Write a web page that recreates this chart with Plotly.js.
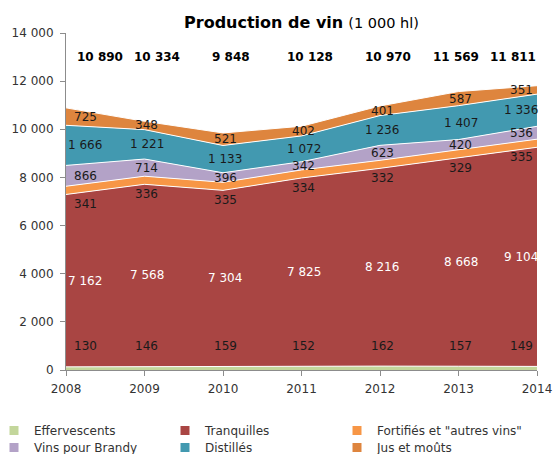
<!DOCTYPE html>
<html>
<head>
<meta charset="utf-8">
<script src="https://cdn.plot.ly/plotly-3.0.1.min.js"></script>
<style>html,body{margin:0;padding:0;background:#fff;}#chart{width:558px;height:454px;}</style>
</head>
<body>
<div id="chart"></div>
<script>
// ---- data ----
const years = [2008, 2009, 2010, 2011, 2012, 2013, 2014];
const effervescents = [130, 146, 159, 152, 162, 157, 149];
const tranquilles = [7162, 7568, 7304, 7825, 8216, 8668, 9104];
const fortifies = [341, 336, 335, 334, 332, 329, 335];
const brandy = [866, 714, 396, 342, 623, 420, 536];
const distilles = [1666, 1221, 1133, 1072, 1236, 1407, 1336];
const jus = [725, 348, 521, 402, 401, 587, 351];
const totals = [10890, 10334, 9848, 10128, 10970, 11569, 11811];
const seriesNames = ["Effervescents", "Tranquilles", "Fortifiés et \"autres vins\"", "Vins pour Brandy", "Distillés", "Jus et moûts"];

// ---- style ----
const colors = ["#C3D69B", "#A94543", "#F79646", "#B3A2C7", "#4299B0", "#DE853E"];
const FONT = "DejaVu Sans, sans-serif";
const series = [effervescents, tranquilles, fortifies, brandy, distilles, jus];
// legend grid: 3 columns x 2 rows, one legend box per entry
const legendCols = [-6, 165, 337];
const legendRows = [416, 433];

function fmt(v) { return String(v).replace(/\B(?=(\d{3})+(?!\d))/g, " "); }

const traces = [];
series.forEach((vals, i) => {
  traces.push({
    x: years, y: vals, type: "scatter", mode: "lines",
    stackgroup: "one", name: seriesNames[i], showlegend: false,
    line: {color: "#ffffff", width: 1}, fillcolor: colors[i],
    hoverinfo: "skip"
  });
});
series.forEach((vals, i) => {
  traces.push({
    x: [null], y: [null], type: "scatter", mode: "markers", name: seriesNames[i],
    marker: {symbol: "square", size: 9, color: colors[i]}, showlegend: true,
    legend: i === 0 ? "legend" : "legend" + (i + 1)
  });
});

function edgeShift(j) { return j === 0 ? 19 : (j === years.length - 1 ? -16 : 2); }

const annotations = [];
const cum = years.map(() => 0);
const bottoms = [], tops = [];
series.forEach((vals) => {
  bottoms.push(cum.slice());
  vals.forEach((v, j) => { cum[j] += v; });
  tops.push(cum.slice());
});
series.forEach((vals, i) => {
  vals.forEach((v, j) => {
    let y, yanchor = "middle", yshift = 0, color = "#1a1a1a";
    if (i === 0) { y = 1000; }
    else if (i === 2) { y = bottoms[i][j]; yanchor = "top"; yshift = -1; }
    else { y = (bottoms[i][j] + tops[i][j]) / 2; }
    if (i === 1) color = "#ffffff";
    annotations.push({
      x: years[j], y: y, xref: "x", yref: "y", text: fmt(v), showarrow: false,
      xshift: edgeShift(j), yshift: yshift, yanchor: yanchor,
      font: {family: FONT, size: 12, color: color}
    });
  });
});
const totalShift = [34, 12, 8, 8, 8, -3, -24];
totals.forEach((t, j) => {
  annotations.push({
    x: years[j], y: 13000, xref: "x", yref: "y", text: "<b>" + fmt(t) + "</b>",
    showarrow: false, xshift: totalShift[j],
    font: {family: FONT, size: 12, color: "#000000"}
  });
});

function legendAt(xpx, ypx) {
  return {
    orientation: "v", x: (xpx - 66) / 471, xanchor: "left",
    y: 1 - ypx / 454, yref: "container", yanchor: "top",
    font: {family: FONT, size: 12, color: "#333333"},
    bgcolor: "rgba(0,0,0,0)", borderwidth: 0
  };
}

const layout = {
  width: 558, height: 454,
  margin: {l: 66, r: 21, t: 33, b: 84, autoexpand: false},
  paper_bgcolor: "#ffffff", plot_bgcolor: "#ffffff",
  separators: ", ",
  font: {family: FONT, size: 12, color: "#333333"},
  title: {
    text: "<b>Production de vin</b> <span style=\"font-size:14.5px\">(1 000 hl)</span>",
    font: {family: FONT, size: 16, color: "#000000"},
    x: 0.5, xref: "paper", xanchor: "center",
    y: 1 - 22 / 454, yref: "container", yanchor: "middle"
  },
  xaxis: {
    range: [2008, 2014], tickvals: years, ticktext: years.map(String),
    showline: true, linecolor: "#8c8c8c", linewidth: 1,
    ticks: "outside", ticklen: 5, tickcolor: "#8c8c8c", ticklabelstandoff: 3,
    showgrid: false, zeroline: false,
    tickfont: {family: FONT, size: 12, color: "#333333"}
  },
  yaxis: {
    range: [0, 14000], dtick: 2000, tickformat: ",d",
    showline: true, linecolor: "#8c8c8c", linewidth: 1,
    ticks: "outside", ticklen: 5, tickcolor: "#8c8c8c", ticklabelstandoff: 4,
    showgrid: false, zeroline: false,
    tickfont: {family: FONT, size: 12, color: "#333333"}
  },
  showlegend: true,
  annotations: annotations
};
series.forEach((vals, i) => {
  const key = i === 0 ? "legend" : "legend" + (i + 1);
  layout[key] = legendAt(legendCols[i % 3], legendRows[Math.floor(i / 3)]);
});

Plotly.newPlot("chart", traces, layout, {displayModeBar: false, staticPlot: true});
</script>
</body>
</html>
